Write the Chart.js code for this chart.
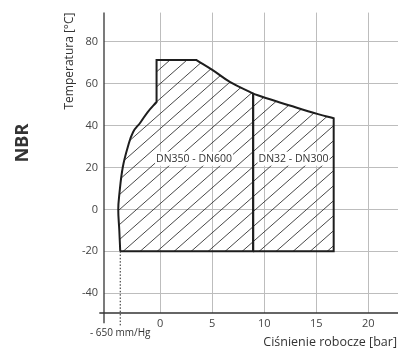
<!DOCTYPE html>
<html>
<head>
<meta charset="utf-8">
<script src="https://cdn.jsdelivr.net/npm/chart.js@4.4.1/dist/chart.umd.min.js"></script>
<style>
html, body { margin: 0; padding: 0; background: #fff; }
#wrap { width: 398px; height: 349px; }
</style>
</head>
<body>
<div id="wrap"><canvas id="myChart"></canvas></div>
<script>
// zakres pracy NBR (cisnienie [bar] / temperatura [C])
var xTicks = [0, 5, 10, 15, 20];
var yTicks = [-40, -20, 0, 20, 40, 60, 80];

// corner points are listed twice so the spline keeps them sharp
var zoneAX = [-3.84, -3.93, -4.03, -3.93, -3.6, -3.1, -2.6, -1.9, -1.2, -0.35, -0.35, -0.35, -0.35, 3.49, 3.49, 5.08, 6.69, 8.93, 8.93, 8.93, 8.93, -3.84, -3.84];
var zoneAY = [-20, -10, 0, 7, 20, 30, 37, 41.5, 46.5, 51.3, 51.3, 71.3, 71.3, 71.3, 71.3, 66.4, 60.9, 55.3, 55.3, -20, -20, -20, -20];
var zoneBX = [8.93, 8.93, 8.93, 8.93, 10.14, 12.45, 15.17, 16.67, 16.67, 16.67, 16.67, 8.93, 8.93];
var zoneBY = [-20, -20, 55.3, 55.3, 53.2, 49.6, 45.5, 43.5, 43.5, -20, -20, -20, -20];

var vacuumX = [-3.84, -3.84];
var vacuumY = [-20, -56];

var zoneLabels = ['DN350 - DN600', 'DN32 - DN300'];
var zoneLabelX = [3.25, 12.81];
var zoneLabelY = [24.2, 24.2];

var font = '"Open Sans", "DejaVu Sans", sans-serif';

function pts(xs, ys) {
    return xs.map(function (x, i) { return { x: x, y: ys[i] }; });
}

function makeHatch() {
    var w = 17, h = 15;
    var c = document.createElement('canvas');
    c.width = w;
    c.height = h;
    var g = c.getContext('2d');
    g.strokeStyle = '#333';
    g.lineWidth = 0.9;
    g.beginPath();
    [-h, 0, h].forEach(function (o) {
        g.moveTo(-1, h + o + h / w);
        g.lineTo(w + 1, o - h / w);
    });
    g.stroke();
    return g.createPattern(c, 'repeat');
}
var hatch = makeHatch();

var textPlugin = {
    id: 'texts',
    afterDatasetsDraw: function (chart) {
        var ctx = chart.ctx;
        var xs = chart.scales.x, ys = chart.scales.y;
        ctx.save();
        ctx.font = '10.5px ' + font;
        ctx.textAlign = 'center';
        ctx.textBaseline = 'middle';
        zoneLabels.forEach(function (t, i) {
            var px = xs.getPixelForValue(zoneLabelX[i]);
            var py = ys.getPixelForValue(zoneLabelY[i]);
            var tw = ctx.measureText(t).width;
            ctx.fillStyle = '#fff';
            ctx.fillRect(px - tw / 2 - 1, py - 7, tw + 2, 14);
            ctx.fillStyle = '#333';
            ctx.fillText(t, px, py);
        });
        ctx.restore();
    },
    afterDraw: function (chart) {
        var ctx = chart.ctx;
        var xs = chart.scales.x;
        ctx.save();
        ctx.fillStyle = '#333';
        ctx.textBaseline = 'middle';

        ctx.save();
        ctx.translate(22.7, 143);
        ctx.rotate(-Math.PI / 2);
        ctx.textAlign = 'center';
        ctx.font = 'bold 18px ' + font;
        ctx.fillText('NBR', 0, 0);
        ctx.restore();

        ctx.save();
        ctx.translate(70, 61);
        ctx.rotate(-Math.PI / 2);
        ctx.textAlign = 'center';
        ctx.font = '12px ' + font;
        ctx.fillText('Temperatura [°C]', 0, 0);
        ctx.restore();

        ctx.textAlign = 'right';
        ctx.font = '12.5px ' + font;
        ctx.fillText('Ciśnienie robocze [bar]', 397, 342);

        ctx.textAlign = 'center';
        ctx.font = '10px ' + font;
        ctx.fillText('- 650 mm/Hg', xs.getPixelForValue(vacuumX[0]), 333);
        ctx.restore();
    }
};

var zoneStyle = {
    borderColor: '#1e1e1e',
    borderWidth: 2,
    backgroundColor: hatch,
    fill: 'shape',
    pointRadius: 0,
    tension: 0.4
};

new Chart(document.getElementById('myChart'), {
    type: 'line',
    data: {
        datasets: [
            Object.assign({ label: 'DN350 - DN600', data: pts(zoneAX, zoneAY) }, zoneStyle),
            Object.assign({ label: 'DN32 - DN300', data: pts(zoneBX, zoneBY) }, zoneStyle),
            {
                label: 'vacuum',
                data: pts(vacuumX, vacuumY),
                borderColor: '#222',
                borderWidth: 1,
                borderDash: [1.5, 1.8],
                pointRadius: 0,
                fill: false,
                clip: false
            },
            {
                label: 'axisX',
                data: [{ x: -5.85, y: -49.5 }, { x: 22.85, y: -49.5 }],
                borderColor: '#333',
                borderWidth: 1.3,
                pointRadius: 0,
                fill: false,
                clip: false
            },
            {
                label: 'axisY',
                data: [{ x: -5.4, y: -54.4 }, { x: -5.4, y: 94 }],
                borderColor: '#333',
                borderWidth: 1.3,
                pointRadius: 0,
                fill: false,
                clip: false
            }
        ]
    },
    options: {
        responsive: true,
        maintainAspectRatio: false,
        animation: false,
        layout: { padding: { top: 10, right: 0, left: 0, bottom: 0 } },
        plugins: {
            legend: { display: false },
            tooltip: { enabled: false }
        },
        scales: {
            x: {
                type: 'linear',
                min: -5.4,
                max: 22.85,
                afterBuildTicks: function (s) { s.ticks = xTicks.map(function (v) { return { value: v }; }); },
                afterFit: function (s) { s.height = 36; },
                border: { display: false },
                grid: { color: '#bdbdbd', lineWidth: 1, drawTicks: false },
                ticks: { color: '#444', font: { family: font, size: 11 }, padding: 4, maxRotation: 0, autoSkip: false }
            },
            y: {
                type: 'linear',
                min: -49.5,
                max: 94,
                afterBuildTicks: function (s) { s.ticks = yTicks.map(function (v) { return { value: v }; }); },
                afterFit: function (s) { s.width = 104; },
                border: { display: false },
                grid: { color: '#bdbdbd', lineWidth: 1, drawTicks: false },
                ticks: { color: '#444', font: { family: font, size: 11 }, padding: 6, autoSkip: false }
            }
        }
    },
    plugins: [textPlugin]
});
</script>
</body>
</html>
